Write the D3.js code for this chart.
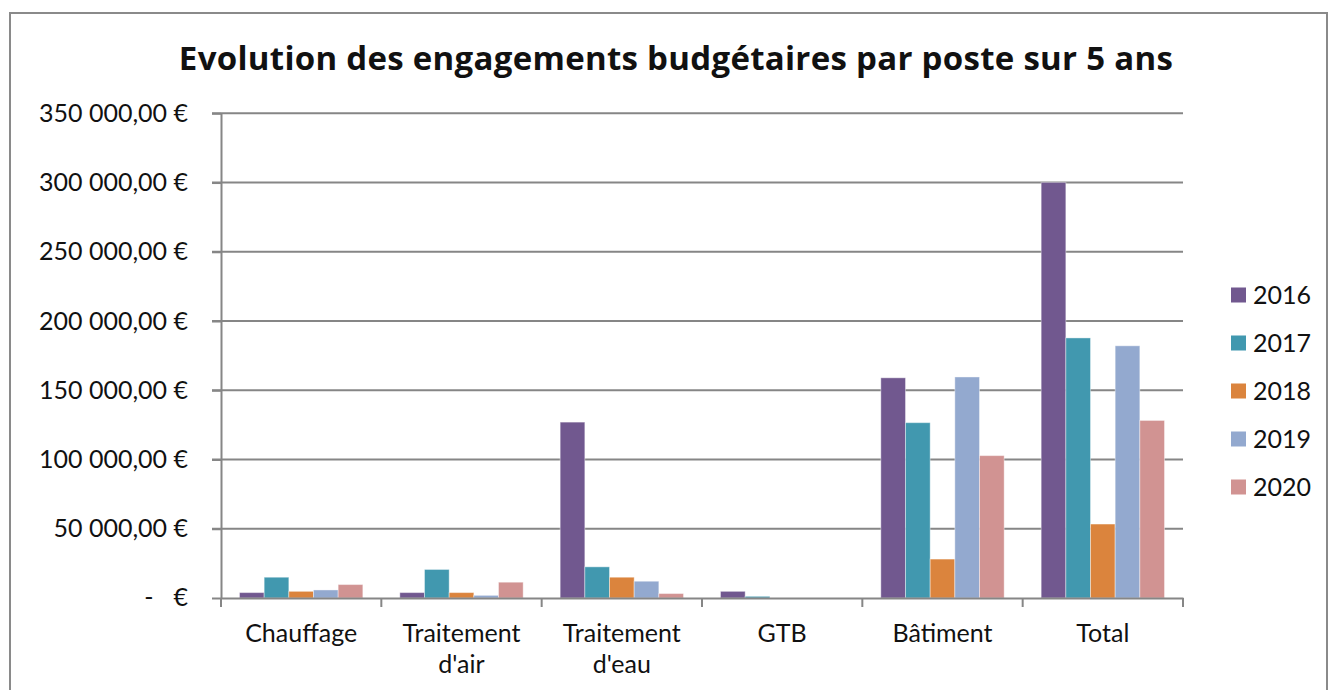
<!DOCTYPE html>
<html>
<head>
<meta charset="utf-8">
<script src="https://cdn.jsdelivr.net/npm/d3@7"></script>
<style>
  body { margin: 0; background: #fff; }
  text { font-family: Lato, "Open Sans", sans-serif; fill: #111; }
  .grid line { stroke: #868686; stroke-width: 2; }
  .domain { stroke: #868686; stroke-width: 2; }
</style>
</head>
<body>
<svg id="chart" width="1331" height="690"></svg>
<script>
var categories = ["Chauffage", "Traitement d'air", "Traitement d'eau", "GTB", "Bâtiment", "Total"];
var years = ["2016", "2017", "2018", "2019", "2020"];
var colors = ["#71588F", "#4198AF", "#DB843D", "#93A9CF", "#D19392"];
var yTicks = [0, 50000, 100000, 150000, 200000, 250000, 300000, 350000];

// one array per category, in year order
var chauffage = [3900, 15000, 4800, 5800, 9700];
var traitementAir = [3900, 20600, 3900, 1900, 11400];
var traitementEau = [127000, 22500, 15000, 12100, 3200];
var gtb = [4800, 1200, 0, 0, 0];
var batiment = [159000, 126600, 28100, 159600, 102800];
var total = [300100, 187800, 53400, 182100, 128200];
var values = [chauffage, traitementAir, traitementEau, gtb, batiment, total];

var title = "Evolution des engagements budgétaires par poste sur 5 ans";

var svg = d3.select("#chart");
var plot = { left: 221, right: 1183, top: 113.3, bottom: 598 };

// chart frame
svg.append("rect")
  .attr("x", 10).attr("y", 13)
  .attr("width", 1317).attr("height", 700)
  .attr("fill", "#fff")
  .attr("stroke", "#8a8a8a")
  .attr("stroke-width", 2);

var titleText = svg.append("text")
  .attr("x", 676).attr("y", 70)
  .attr("text-anchor", "middle")
  .style("font-family", "'Open Sans', Lato, sans-serif")
  .style("font-weight", "bold")
  .style("font-size", "33px")
  .text(title);
// stretch the title to the width it has in the original (approx 994px)
var tl = titleText.node().getComputedTextLength();
titleText.style("letter-spacing", ((994 - tl) / (title.length - 1)) + "px");

var x0 = d3.scaleBand().domain(categories).range([plot.left, plot.right]);
var bw = x0.bandwidth();
// excel gap width 150% -> group is 5 bars out of 6.5
var x1 = d3.scaleBand().domain(years)
  .range([bw * 0.75 / 6.5, bw * 5.75 / 6.5]);
var y = d3.scaleLinear().domain([0, 350000]).range([plot.bottom, plot.top]);

var fr = d3.formatLocale({ decimal: ",", thousands: "\u00a0", grouping: [3], currency: ["", "\u00a0€"] });
var fmt = fr.format(",.2f");

// gridlines
svg.append("g").attr("class", "grid")
  .selectAll("line")
  .data(yTicks.filter(function(d) { return d > 0; }))
  .enter().append("line")
  .attr("x1", plot.left - 9).attr("x2", plot.right)
  .attr("y1", function(d) { return y(d); })
  .attr("y2", function(d) { return y(d); });

var yAxis = svg.append("g")
  .attr("transform", "translate(" + plot.left + ",0)")
  .call(d3.axisLeft(y).tickValues(yTicks).tickSize(9).tickSizeOuter(0)
    .tickFormat(function(d) { return d === 0 ? "" : fmt(d) + " €"; }));
yAxis.selectAll(".tick line").attr("stroke", "#868686").attr("stroke-width", 2);
yAxis.selectAll(".tick text")
  .attr("x", -33)
  .style("font-size", "25px")
  .attr("fill", "#111");

// zero label in accounting style
var zero = svg.append("g").attr("transform", "translate(0," + y(0) + ")");
zero.append("text").attr("x", 149).attr("dy", "0.32em")
  .attr("text-anchor", "middle").style("font-size", "25px").text("-");
zero.append("text").attr("x", 188).attr("dy", "0.32em")
  .attr("text-anchor", "end").style("font-size", "25px").text("€");

var groups = svg.append("g").selectAll("g.cat")
  .data(categories)
  .enter().append("g")
  .attr("class", "cat")
  .attr("transform", function(d) { return "translate(" + x0(d) + ",0)"; });

groups.selectAll("rect")
  .data(function(d, i) {
    return years.map(function(yr, j) { return { year: yr, value: values[i][j], idx: j }; });
  })
  .enter().append("rect")
  .attr("x", function(d) { return x1(d.year); })
  .attr("width", x1.bandwidth())
  .attr("y", function(d) { return y(d.value); })
  .attr("height", function(d) { return y(0) - y(d.value); })
  .attr("fill", function(d) { return colors[d.idx]; })
  .attr("stroke", "#fff")
  .attr("stroke-opacity", 0.4)
  .attr("stroke-width", 1);

var xAxis = svg.append("g")
  .attr("transform", "translate(0," + plot.bottom + ")")
  .call(d3.axisBottom(x0).tickSize(0).tickFormat(""));

// category boundary ticks
xAxis.selectAll("line.sep")
  .data(d3.range(categories.length + 1))
  .enter().append("line")
  .attr("class", "sep")
  .attr("x1", function(i) { return plot.left + i * bw; })
  .attr("x2", function(i) { return plot.left + i * bw; })
  .attr("y1", 0).attr("y2", 9)
  .attr("stroke", "#868686").attr("stroke-width", 2);

var labels = svg.append("g").selectAll("text.cat")
  .data(categories)
  .enter().append("text")
  .attr("class", "cat")
  .attr("text-anchor", "middle")
  .style("font-size", "25px")
  .attr("x", function(d) { return x0(d) + bw / 2; })
  .attr("y", 642);

labels.each(function(d) {
  var parts = d.split(" ");
  var t = d3.select(this);
  parts.forEach(function(p, k) {
    t.append("tspan")
      .attr("x", x0(d) + bw / 2)
      .attr("dy", k === 0 ? 0 : 31)
      .text(p);
  });
});

var legend = svg.append("g").selectAll("g.leg")
  .data(years)
  .enter().append("g")
  .attr("class", "leg")
  .attr("transform", function(d, i) { return "translate(1231," + (295 + i * 48) + ")"; });

legend.append("rect")
  .attr("x", 0).attr("y", -7.5)
  .attr("width", 15).attr("height", 15)
  .attr("fill", function(d, i) { return colors[i]; });

legend.append("text")
  .attr("x", 22).attr("dy", "0.35em")
  .style("font-size", "25px")
  .text(function(d) { return d; });
</script>
</body>
</html>
